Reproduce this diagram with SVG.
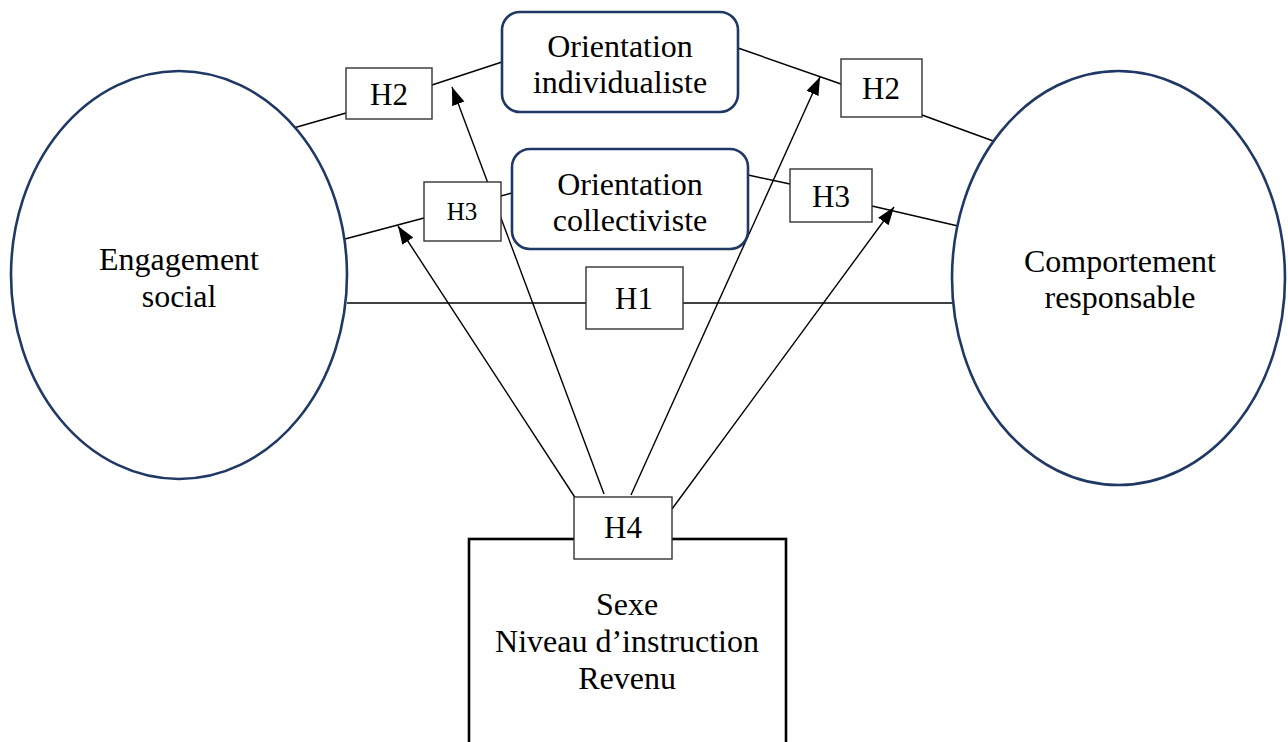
<svg xmlns="http://www.w3.org/2000/svg" width="1288" height="742" viewBox="0 0 1288 742">
<style>
.ell{fill:#fff;stroke:#1f3864;stroke-width:2.6}
.rbox{fill:#fff;stroke:#1f3864;stroke-width:2.6}
.hbox{fill:#fff;stroke:#333;stroke-width:1.4}
.con{stroke:#000;stroke-width:1.4;fill:none}
.arr{stroke:#000;stroke-width:1.4;fill:none;marker-end:url(#ah)}
</style>
<defs>
<marker id="ah" markerUnits="userSpaceOnUse" markerWidth="20" markerHeight="14" refX="18" refY="6.5" orient="auto">
<path d="M0,0 L18,6.5 L0,13 z" fill="#000"/>
</marker>
</defs>
<rect width="1288" height="742" fill="#fff"/>
<g id="connectors">
<line class="con" x1="290" y1="129" x2="346" y2="113"/>
<line class="con" x1="432" y1="85" x2="502" y2="62"/>
<line class="con" x1="345" y1="239" x2="424" y2="218"/>
<line class="con" x1="501" y1="196" x2="512" y2="193"/>
<line class="con" x1="738" y1="48" x2="841" y2="84"/>
<line class="con" x1="922" y1="115" x2="996" y2="142"/>
<line class="con" x1="748" y1="175" x2="790" y2="184"/>
<line class="con" x1="872" y1="206" x2="958" y2="226"/>
<line class="con" x1="347" y1="303" x2="586" y2="303"/>
<line class="con" x1="683" y1="303" x2="952" y2="303"/>
<line class="arr" x1="576" y1="499" x2="398" y2="226"/>
<line class="arr" x1="604" y1="494" x2="452" y2="87"/>
<line class="arr" x1="631" y1="495" x2="820" y2="77"/>
<line class="arr" x1="672" y1="509" x2="894" y2="207"/>
</g>
<g id="engagement">
<ellipse class="ell" cx="179" cy="275" rx="168" ry="204"/>
<text font-family="Liberation Serif" font-size="32" text-anchor="middle" x="179" y="270">Engagement</text>
<text font-family="Liberation Serif" font-size="32" text-anchor="middle" x="179" y="307">social</text>
</g>
<g id="comportement">
<ellipse class="ell" cx="1118.5" cy="278" rx="166.5" ry="207"/>
<text font-family="Liberation Serif" font-size="32" text-anchor="middle" x="1120" y="272">Comportement</text>
<text font-family="Liberation Serif" font-size="32" text-anchor="middle" x="1120" y="308">responsable</text>
</g>
<g id="individualiste">
<rect class="rbox" x="502" y="12" width="236" height="100" rx="18"/>
<text font-family="Liberation Serif" font-size="32" text-anchor="middle" x="620" y="57">Orientation</text>
<text font-family="Liberation Serif" font-size="32" text-anchor="middle" x="620" y="93">individualiste</text>
</g>
<g id="collectiviste">
<rect class="rbox" x="512" y="149" width="236" height="100" rx="18"/>
<text font-family="Liberation Serif" font-size="32" text-anchor="middle" x="630" y="195">Orientation</text>
<text font-family="Liberation Serif" font-size="32" text-anchor="middle" x="630" y="231">collectiviste</text>
</g>
<g id="h2-left">
<rect class="hbox" x="346" y="68" width="86" height="51"/>
<text font-family="Liberation Serif" font-size="31" text-anchor="middle" x="389" y="105">H2</text>
</g>
<g id="h3-left">
<rect class="hbox" x="424" y="182" width="77" height="59"/>
<text font-family="Liberation Serif" font-size="25" text-anchor="middle" x="462" y="220">H3</text>
</g>
<g id="h2-right">
<rect class="hbox" x="841" y="59" width="81" height="58"/>
<text font-family="Liberation Serif" font-size="31" text-anchor="middle" x="881" y="99">H2</text>
</g>
<g id="h3-right">
<rect class="hbox" x="790" y="169" width="82" height="53"/>
<text font-family="Liberation Serif" font-size="31" text-anchor="middle" x="831" y="207">H3</text>
</g>
<g id="h1">
<rect class="hbox" x="586" y="267" width="97" height="62"/>
<text font-family="Liberation Serif" font-size="31" text-anchor="middle" x="634" y="309">H1</text>
</g>
<g id="demographics">
<rect x="469" y="539" width="317" height="220" fill="#fff" stroke="#000" stroke-width="2.6"/>
<text font-family="Liberation Serif" font-size="32" text-anchor="middle" x="627" y="615">Sexe</text>
<text font-family="Liberation Serif" font-size="32" text-anchor="middle" x="627" y="652">Niveau d’instruction</text>
<text font-family="Liberation Serif" font-size="32" text-anchor="middle" x="627" y="689">Revenu</text>
</g>
<g id="h4">
<rect class="hbox" x="574" y="497" width="98" height="62"/>
<text font-family="Liberation Serif" font-size="31" text-anchor="middle" x="623" y="538">H4</text>
</g>
</svg>
